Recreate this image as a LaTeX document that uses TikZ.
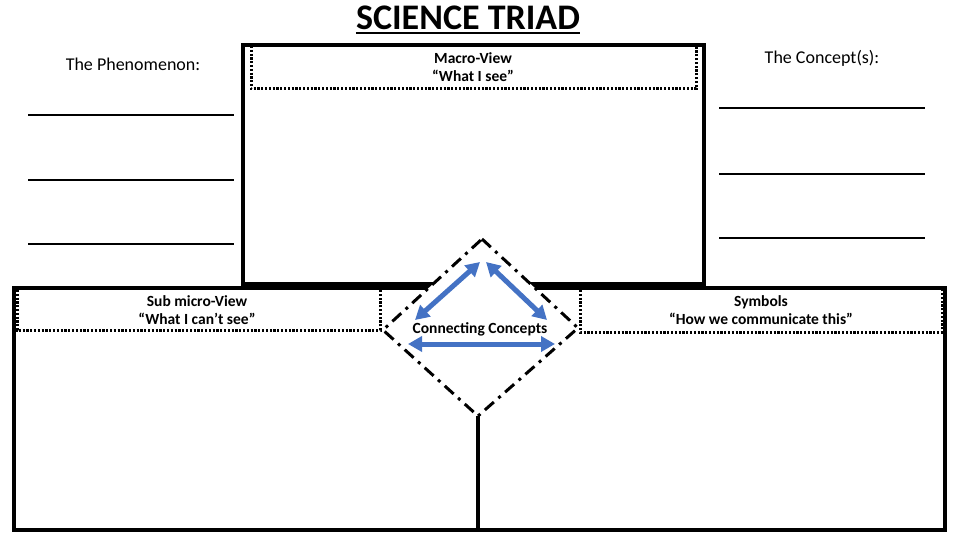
\documentclass[tikz,border=0pt]{standalone}
\usepackage{fontspec}
\setmainfont{Carlito}
\usetikzlibrary{arrows.meta}
\definecolor{arrowblue}{HTML}{4472C4}
\tikzset{
  frame/.style={line width=3.5pt, line cap=rect},
  dotbox/.style={line width=3pt, dash pattern=on 2.2pt off 1.6pt},
  dashdot/.style={line width=3pt, dash pattern=on 12pt off 6pt on 3pt off 6pt, fill=white},
  blank/.style={line width=1.3pt},
  biarrow/.style={arrowblue, line width=5pt, {Triangle[length=14pt,width=15pt]}-{Triangle[length=14pt,width=15pt]}},
  label/.style={font=\fontsize{15.5}{18}\selectfont\bfseries, align=center, inner sep=0pt},
  side/.style={font=\fontsize{18}{20}\selectfont, inner sep=0pt}
}
\begin{document}
\begin{tikzpicture}[x=1pt,y=-1pt]
\useasboundingbox (0,0) rectangle (960,540);
% title
\node[font=\fontsize{36}{40}\selectfont\bfseries, inner sep=0pt] (title) at (468,18) {SCIENCE TRIAD};
\draw[line width=2.2pt] (title.south west |- 0,33) -- (title.south east |- 0,33);
% coordinates
\coordinate (tbnw) at (243,45);
\coordinate (tbse) at (704,284);
\coordinate (bfnw) at (14,288);
\coordinate (bfse) at (945,530);
% bottom frame
\draw[frame] (bfnw) rectangle (bfse);
% top box
\draw[frame] (tbnw) rectangle (tbse);
% dotted boxes
\coordinate (m1) at (251,46);
\coordinate (m2) at (696,89);
\draw[dotbox] (m1) -- (m1 |- m2) -- (m2) -- (m2 |- m1);
\coordinate (s1) at (17,290);
\coordinate (s2) at (380,330);
\draw[dotbox] (s1) -- (s1 |- s2) -- (s2) -- (s2 |- s1);
\coordinate (y1) at (580,290);
\coordinate (y2) at (942,332);
\draw[dotbox] (y1) -- (y1 |- y2) -- (y2) -- (y2 |- y1);
% diamond
\coordinate (dtop) at (482,239);
\coordinate (dleft) at (383,330);
\coordinate (dbot) at (478,416);
\coordinate (dright) at (578,328);
\coordinate (stem) at (478,530);
\draw[frame, line cap=butt] (dbot) -- (stem);
\draw[dashdot] (dtop) -- (dright) -- (dbot) -- (dleft) -- cycle;
% arrows
\coordinate (a1) at (415,320);
\coordinate (a2) at (480,262);
\coordinate (a3) at (486,262);
\coordinate (a4) at (547,320);
\coordinate (a5) at (408,344);
\coordinate (a6) at (555,344);
\draw[biarrow] (a1) -- (a2);
\draw[biarrow] (a3) -- (a4);
\draw[biarrow] (a5) -- (a6);
% labels
\node[label] (macro) at (473,67) {Macro-View\\“What I see”};
\node[label] (sub) at (197,310) {Sub micro-View\\“What I can’t see”};
\node[label] (sym) at (761,310) {Symbols\\“How we communicate this”};
\node[label] (conn) at (480,329) {Connecting Concepts};
% side texts and blanks
\node[side] (phen) at (133,64) {The Phenomenon:};
\node[side] (conc) at (822,58) {The Concept(s):};
\foreach \yy [count=\i] in {115,180,244} {
  \coordinate (pl\i) at (28,\yy); \coordinate (pr\i) at (234,\yy);
  \draw[blank] (pl\i) -- (pr\i);
}
\foreach \yy [count=\i] in {108,174,238} {
  \coordinate (cl\i) at (719,\yy); \coordinate (cr\i) at (925,\yy);
  \draw[blank] (cl\i) -- (cr\i);
}
\end{tikzpicture}
\end{document}
